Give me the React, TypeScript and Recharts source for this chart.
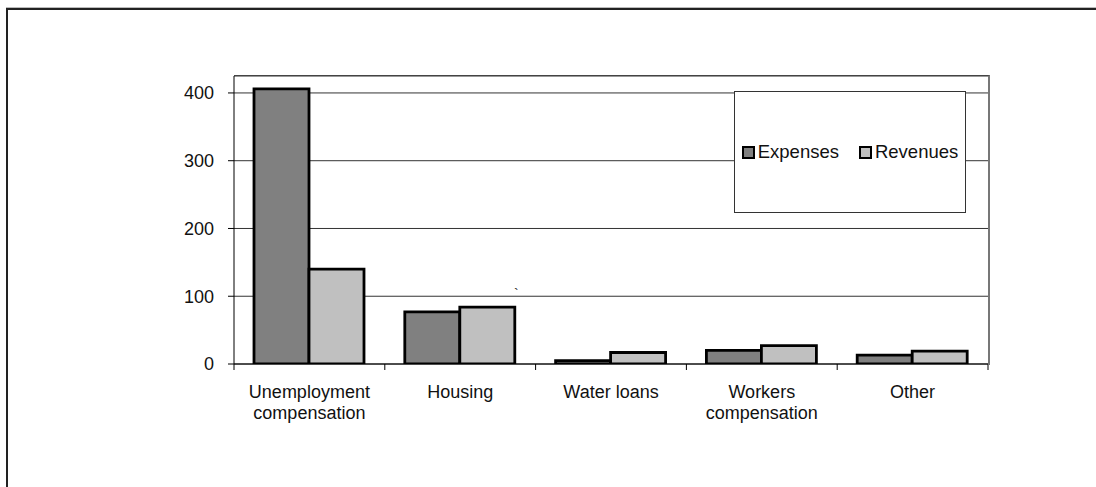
import React from 'react';
import { BarChart, Bar, XAxis, YAxis, CartesianGrid } from 'recharts';

const categories = ['Unemployment\ncompensation', 'Housing', 'Water loans', 'Workers\ncompensation', 'Other'];
const expenses = [406, 77, 5, 20, 13];
const revenues = [140, 84, 17, 27, 19];
const yTicks = [0, 100, 200, 300, 400];

const data = categories.map((name, i) => ({ name, Expenses: expenses[i], Revenues: revenues[i] }));

const FONT = 'Arial, "Liberation Sans", sans-serif';

const CategoryTick = (props: any) => {
    const { x, y, payload, index } = props;
    const half = payload && payload.offset ? payload.offset : 75.4;
    const lines = String(payload.value).split('\n');
    const axisY = y - 8;
    return (
        <g>
            <line x1={x - half} y1={axisY} x2={x - half} y2={axisY + 6} stroke="#000" />
            {index === categories.length - 1 && (
                <line x1={x + half} y1={axisY} x2={x + half} y2={axisY + 6} stroke="#000" />
            )}
            <text x={x} y={y} textAnchor="middle" fontSize={18} fontFamily={FONT} fill="#111">
                {lines.map((l, i) => (
                    <tspan key={i} x={x} dy={i === 0 ? 26 : 21}>{l}</tspan>
                ))}
            </text>
        </g>
    );
};

const Swatch = ({ color }: { color: string }) => (
    <span style={{ display: 'inline-block', width: 9, height: 9, background: color, border: '2px solid #000', marginRight: 3 }} />
);

const App = () => {
    return (
        <div style={{ position: 'absolute', left: 0, top: 0, width: 1096, height: 487, overflow: 'hidden', background: '#fff' }}>
            <div style={{ position: 'absolute', left: 6, top: 8, width: 1200, height: 600, borderLeft: '2px solid #222', borderTop: '2px solid #222', boxShadow: '0 -1px 0 #bbb' }} />
            <BarChart
                width={1096}
                height={487}
                data={data}
                margin={{ top: 76, right: 108, left: 174, bottom: 63 }}
                barCategoryGap={20}
                barGap={0}
                style={{ position: 'absolute', left: 0, top: 0 }}
            >
                <CartesianGrid horizontal vertical={false} stroke="#333" strokeOpacity={1} />
                <XAxis
                    dataKey="name"
                    interval={0}
                    height={60}
                    axisLine={{ stroke: '#000' }}
                    tickLine={false}
                    tickSize={6}
                    tickMargin={2}
                    tick={<CategoryTick />}
                />
                <YAxis
                    width={60}
                    domain={[0, 425]}
                    ticks={yTicks}
                    allowDataOverflow
                    axisLine={{ stroke: '#000' }}
                    tickLine={{ stroke: '#000' }}
                    tickSize={6}
                    tickMargin={14}
                    tick={{ fontSize: 18, fontFamily: FONT, fill: '#111' }}
                />
                <Bar dataKey="Expenses" fill="#808080" stroke="#000" strokeWidth={2.8} isAnimationActive={false} />
                <Bar dataKey="Revenues" fill="#c0c0c0" stroke="#000" strokeWidth={2.8} isAnimationActive={false} />
            </BarChart>
            {/* plot area frame, top and right edges */}
            <div style={{ position: 'absolute', left: 234, top: 75, width: 754, height: 289, borderTop: '1px solid #444', borderRight: '2px solid #777', pointerEvents: 'none' }} />
            {/* legend box */}
            <div style={{ position: 'absolute', left: 734, top: 91, width: 232, height: 122, boxSizing: 'border-box', border: '1px solid #333', background: '#fff', display: 'flex', alignItems: 'center', justifyContent: 'center', fontFamily: FONT, fontSize: 18.5, color: '#111' }}>
                <Swatch color="#808080" />
                <span style={{ marginRight: 20 }}>Expenses</span>
                <Swatch color="#c0c0c0" />
                <span>Revenues</span>
            </div>
            <div style={{ position: 'absolute', left: 514, top: 286, fontFamily: FONT, fontSize: 14, color: '#222' }}>`</div>
        </div>
    );
};

export default App;
